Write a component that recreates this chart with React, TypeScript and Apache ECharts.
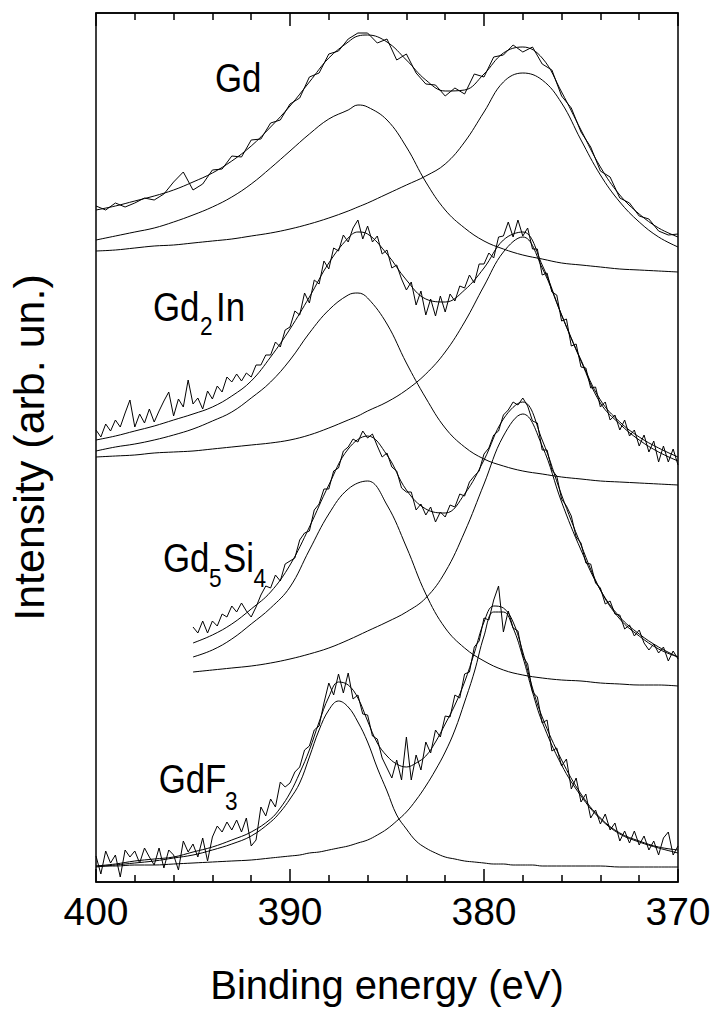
import React, { useEffect, useRef } from "react";
import * as echarts from "echarts";

// Binding-energy grids (eV)
const E_FIT = [400, 399, 398, 397, 396, 395, 394, 393, 392, 391, 390, 389, 388, 387, 386, 385, 384, 383, 382, 381, 380, 379, 378, 377, 376, 375, 374, 373, 372, 371, 370];
const E_FIT_PEAK = [400, 399, 398, 397, 396, 395, 394, 393, 392, 391, 390, 389, 388, 387, 386.5, 386, 385, 384, 383, 382, 381, 380, 379, 378, 377, 376, 375, 374, 373, 372, 371, 370];
const E_FIT_GDF3 = [400, 399, 398, 397, 396, 395, 394, 393, 392, 391, 390.5, 390, 389.5, 389, 388.5, 388, 387.5, 387, 386.5, 386, 385.5, 385, 384.5, 384, 383.5, 383, 382.5, 382, 381.5, 381, 380.5, 380, 379.5, 379, 378.5, 378, 377.5, 377, 376, 375, 374, 373, 372, 371, 370];
const E_DATA_HALF = [400, 399.5, 399, 398.5, 398, 397.5, 397, 396.5, 396, 395.5, 395, 394.5, 394, 393.5, 393, 392.5, 392, 391.5, 391, 390.5, 390, 389.5, 389, 388.5, 388, 387.5, 387, 386.5, 386, 385.5, 385, 384.5, 384, 383.5, 383, 382.5, 382, 381.5, 381, 380.5, 380, 379.5, 379, 378.5, 378, 377.5, 377, 376.5, 376, 375.5, 375, 374.5, 374, 373.5, 373, 372.5, 372, 371.5, 371, 370.5, 370];
const E_DATA_QUARTER = [400, 399.75, 399.5, 399.25, 399, 398.75, 398.5, 398.25, 398, 397.75, 397.5, 397.25, 397, 396.75, 396.5, 396.25, 396, 395.75, 395.5, 395.25, 395, 394.75, 394.5, 394.25, 394, 393.75, 393.5, 393.25, 393, 392.75, 392.5, 392.25, 392, 391.75, 391.5, 391.25, 391, 390.75, 390.5, 390.25, 390, 389.75, 389.5, 389.25, 389, 388.75, 388.5, 388.25, 388, 387.75, 387.5, 387.25, 387, 386.75, 386.5, 386.25, 386, 385.75, 385.5, 385.25, 385, 384.75, 384.5, 384.25, 384, 383.75, 383.5, 383.25, 383, 382.75, 382.5, 382.25, 382, 381.75, 381.5, 381.25, 381, 380.75, 380.5, 380.25, 380, 379.75, 379.5, 379.25, 379, 378.75, 378.5, 378.25, 378, 377.75, 377.5, 377.25, 377, 376.75, 376.5, 376.25, 376, 375.75, 375.5, 375.25, 375, 374.75, 374.5, 374.25, 374, 373.75, 373.5, 373.25, 373, 372.75, 372.5, 372.25, 372, 371.75, 371.5, 371.25, 371, 370.75, 370.5, 370.25, 370];

// Gd (offset intensities, arb. units)
const GD_DATA = [676, 672, 679, 675, 679, 684, 682, 688, 700, 710, 692, 698, 712, 713, 726, 725, 742, 743, 759, 762, 778, 784, 805, 809, 828, 831, 843, 849, 849, 839, 843, 822, 828, 809, 798, 797, 786, 794, 788, 808, 805, 825, 827, 837, 830, 835, 818, 812, 786, 774, 750, 735, 711, 705, 684, 679, 666, 663, 651, 647, 648];
const GD_FIT = [672, 676, 681, 686, 692, 700, 709, 721, 736, 755, 776, 800, 824, 840, 846, 847, 840, 822, 802, 791, 792, 808, 829, 835, 824, 790, 752, 715, 687, 668, 654, 645];
const GD_C1 = [642, 646, 650, 654, 660, 667, 675, 685, 698, 714, 731, 748, 763, 772, 777, 775, 762, 735, 700, 672, 654, 641, 633, 627, 623, 619, 617, 615, 613, 612, 611, 610];
const GD_C2 = [631, 632, 634, 636, 637, 639, 641, 643, 646, 649, 653, 658, 664, 671, 675, 679, 688, 697, 706, 718, 740, 770, 800, 809, 802, 779, 742, 707, 680, 660, 645, 635];

// Gd2In
const GD2IN_DATA = [452, 445, 458, 451, 462, 455, 469, 482, 455, 468, 459, 473, 460, 471, 481, 490, 466, 483, 475, 502, 478, 484, 473, 491, 483, 496, 490, 505, 500, 508, 501, 509, 505, 517, 517, 527, 527, 540, 535, 552, 555, 571, 567, 589, 579, 602, 598, 621, 613, 634, 631, 647, 640, 654, 662, 643, 656, 640, 646, 628, 632, 614, 617, 603, 592, 600, 577, 591, 567, 583, 566, 586, 570, 588, 581, 596, 594, 607, 599, 618, 618, 629, 624, 645, 646, 660, 645, 662, 646, 654, 633, 633, 607, 609, 590, 587, 561, 563, 536, 538, 515, 514, 494, 495, 475, 480, 462, 467, 452, 462, 446, 452, 436, 447, 430, 441, 420, 436, 420, 433, 417];
const GD2IN_FIT = [442, 446, 451, 456, 462, 468, 475, 486, 501, 525, 553, 585, 619, 644, 650, 648, 628, 602, 583, 580, 592, 614, 642, 650, 617, 567, 521, 479, 458, 442, 430, 421];
const GD2IN_C1 = [431, 435, 438, 442, 447, 453, 461, 470, 484, 500, 522, 549, 572, 587, 589, 584, 558, 519, 484, 454, 435, 423, 416, 411, 408, 405, 403, 401, 400, 399, 398, 397];
const GD2IN_C2 = [425, 426, 427, 429, 430, 431, 433, 435, 437, 439, 442, 447, 454, 462, 466, 471, 480, 492, 508, 530, 560, 596, 630, 645, 614, 567, 522, 482, 460, 445, 434, 425];

// Gd5Si4 (measured from 395 eV)
const GD5SI4_DATA = [255, 249, 261, 249, 261, 256, 268, 265, 276, 270, 279, 271, 265, 275, 287, 296, 294, 307, 301, 318, 321, 324, 342, 349, 351, 372, 378, 393, 393, 411, 414, 431, 435, 443, 440, 451, 444, 448, 436, 425, 429, 415, 411, 394, 390, 390, 372, 378, 367, 375, 360, 370, 365, 377, 375, 388, 386, 400, 406, 411, 428, 434, 447, 451, 467, 472, 480, 477, 484, 476, 461, 459, 432, 432, 412, 406, 383, 376, 366, 345, 339, 319, 318, 299, 294, 278, 281, 268, 267, 253, 257, 246, 252, 239, 232, 238, 229, 235, 221, 231, 223];
const GD5SI4_FIT = [239, 247, 258, 273, 290, 317, 355, 397, 433, 446, 427, 392, 373, 369, 388, 422, 463, 480, 442, 387, 337, 292, 263, 246, 233, 225];
const GD5SI4_C1 = [225, 232, 243, 258, 274, 295, 332, 368, 393, 401, 377, 335, 288, 254, 234, 221, 212, 207, 204, 202, 201, 199, 198, 197, 197, 196];
const GD5SI4_C2 = [210, 212, 214, 216, 219, 223, 228, 234, 242, 251, 260, 270, 284, 310, 350, 398, 446, 468, 436, 380, 332, 292, 265, 248, 235, 225];

// GdF3
const GDF3_DATA = [26, 8, 31, 19, 27, 5, 32, 25, 31, 19, 34, 25, 17, 34, 14, 32, 27, 12, 41, 30, 38, 25, 44, 21, 45, 56, 50, 60, 52, 62, 50, 64, 36, 42, 75, 66, 83, 75, 100, 95, 99, 110, 115, 132, 136, 152, 156, 179, 199, 187, 208, 189, 209, 183, 187, 168, 167, 146, 143, 124, 114, 104, 122, 102, 145, 102, 127, 112, 140, 129, 152, 145, 166, 165, 187, 184, 208, 210, 235, 241, 264, 262, 282, 296, 250, 271, 254, 251, 226, 218, 190, 185, 159, 162, 131, 134, 116, 123, 93, 104, 80, 88, 64, 72, 58, 68, 52, 59, 41, 51, 39, 51, 37, 46, 32, 41, 27, 44, 50, 27, 36];
const GDF3_FIT = [16, 18, 21, 23, 25, 30, 35, 42, 50, 63, 74, 89, 109, 132, 160, 185, 200, 197, 184, 161, 139, 126, 118, 115, 119, 126, 140, 158, 177, 200, 229, 260, 276, 274, 260, 230, 194, 165, 122, 88, 64, 49, 41, 35, 32];
const GDF3_C1 = [15, 17, 19, 21, 24, 27, 32, 38, 46, 60, 70, 83, 99, 125, 152, 172, 181, 175, 160, 140, 114, 91, 67, 53, 41, 34, 29, 25, 23, 21, 20, 19, 18, 18, 17, 17, 17, 16, 16, 16, 16, 15, 15, 15, 15];
const GDF3_C2 = [16, 16, 17, 17, 18, 19, 20, 21, 22, 24, 25, 26, 27, 29, 30, 32, 34, 36, 39, 42, 47, 53, 61, 70, 82, 96, 112, 130, 152, 180, 210, 246, 270, 270, 254, 225, 190, 160, 117, 86, 63, 48, 40, 34, 29];

const X_MIN = 370;
const X_MAX = 400;
const X_STEP = 10;
const Y_MAX = 869;

const FONT = "'Liberation Sans', Arial, sans-serif";
const BLACK = "#000";
const NARROW = 0.87;

function pairs(xs: number[], ys: number[]) {
  return ys.map((y, i) => [xs[i], y]);
}

function line(name: string, data: number[][], smooth: boolean) {
  return {
    type: "line",
    name,
    data,
    symbol: "none",
    showSymbol: false,
    smooth: smooth ? 0.4 : false,
    lineStyle: { color: BLACK, width: 1 },
    itemStyle: { color: BLACK },
    silent: true,
    z: 2,
  };
}

function spectrum(key: string, eData: number[], data: number[], eFit: number[], fit: number[], c1: number[], c2: number[]) {
  return [
    line(key + " data", pairs(eData, data), false),
    line(key + " fit", pairs(eFit, fit), true),
    line(key + " peak 1", pairs(eFit, c1), true),
    line(key + " peak 2", pairs(eFit, c2), true),
  ];
}

function txt(text: string, x: number, y: number, size: number) {
  return {
    type: "text",
    x,
    y,
    scaleX: NARROW,
    silent: true,
    style: {
      text,
      fill: BLACK,
      fontSize: size,
      fontFamily: FONT,
      align: "left",
      verticalAlign: "middle",
    },
  };
}

export default function App() {
  const ref = useRef<HTMLDivElement>(null);

  useEffect(() => {
    document.body.style.margin = "0";
    if (!ref.current) return;
    const chart = echarts.init(ref.current, undefined, { renderer: "svg" });

    const axisCommon = {
      type: "value",
      min: X_MIN,
      max: X_MAX,
      interval: X_STEP,
      inverse: true,
      axisLine: { show: true, onZero: false, lineStyle: { color: BLACK, width: 1.5 } },
      axisTick: { show: true, inside: true, length: 13, lineStyle: { color: BLACK, width: 1.5 } },
      minorTick: { show: true, splitNumber: 5, length: 7, lineStyle: { color: BLACK, width: 1.5 } },
      splitLine: { show: false },
      minorSplitLine: { show: false },
    };

    const series = [
      ...spectrum("Gd", E_DATA_HALF, GD_DATA, E_FIT_PEAK, GD_FIT, GD_C1, GD_C2),
      ...spectrum("Gd2In", E_DATA_QUARTER, GD2IN_DATA, E_FIT_PEAK, GD2IN_FIT, GD2IN_C1, GD2IN_C2),
      ...spectrum("Gd5Si4", E_DATA_QUARTER.slice(20), GD5SI4_DATA, E_FIT.slice(5), GD5SI4_FIT, GD5SI4_C1, GD5SI4_C2),
      ...spectrum("GdF3", E_DATA_QUARTER, GDF3_DATA, E_FIT_GDF3, GDF3_FIT, GDF3_C1, GDF3_C2),
    ];

    chart.setOption({
      animation: false,
      backgroundColor: "#fff",
      grid: {
        left: 96,
        right: 34,
        top: 13,
        bottom: 128,
        show: true,
        borderColor: BLACK,
        borderWidth: 1.5,
        containLabel: false,
        outerBoundsMode: "none",
      },
      xAxis: [
        {
          ...axisCommon,
          position: "bottom",
          axisLabel: { show: true, fontSize: 39, color: BLACK, fontFamily: FONT, margin: 10 },
          name: "Binding energy (eV)",
          nameLocation: "middle",
          nameGap: 83,
          nameTextStyle: { fontSize: 40, color: BLACK, fontFamily: FONT },
        },
        {
          ...axisCommon,
          position: "top",
          axisLabel: { show: false },
        },
      ],
      yAxis: {
        type: "value",
        min: 0,
        max: Y_MAX,
        axisLine: { show: false },
        axisTick: { show: false },
        axisLabel: { show: false },
        splitLine: { show: false },
        name: "Intensity (arb. un.)",
        nameLocation: "middle",
        nameGap: 46,
        nameTextStyle: { fontSize: 43, color: BLACK, fontFamily: FONT },
      },
      graphic: [
        txt("Gd", 215, 78, 40),
        txt("Gd", 153, 307, 40),
        txt("2", 200, 326, 26),
        txt("In", 216, 307, 40),
        txt("Gd", 163, 558, 40),
        txt("5", 209, 578, 26),
        txt("Si", 223, 558, 40),
        txt("4", 253.6, 578, 26),
        txt("GdF", 158.7, 779, 40),
        txt("3", 225, 801, 26),
      ],
      series,
    });

    return () => {
      chart.dispose();
    };
  }, []);

  return <div ref={ref} style={{ width: 712, height: 1010 }} />;
}
